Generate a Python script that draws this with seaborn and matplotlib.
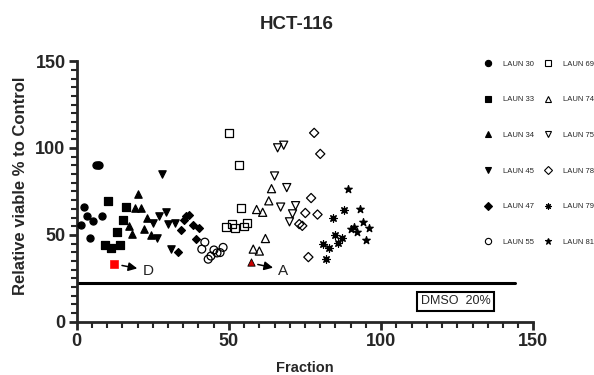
import matplotlib
matplotlib.use("Agg")
import matplotlib.pyplot as plt
from matplotlib.lines import Line2D
import seaborn as sns
import pandas as pd

# Data (fraction number vs. viability %)
laun30_x = [1.3, 2.4, 3.4, 4.4, 5.3, 6.3, 6.9, 7.4, 8.2]
laun30_y = [55.4, 65.8, 60.6, 48.1, 58.1, 90.0, 90.3, 90.5, 61.0]
laun33_x = [9.4, 10.4, 11.3, 13.3, 14.3, 15.3, 16.2]
laun33_y = [44.1, 69.6, 42.5, 51.4, 44.1, 58.7, 66.2]
laun34_x = [17.2, 18.2, 19.2, 20.1, 21.2, 22.2, 23.2, 24.3]
laun34_y = [55.2, 50.4, 65.2, 73.5, 65.4, 53.6, 59.8, 50.2]
laun45_x = [25.2, 26.3, 27.1, 28.1, 29.2, 30.1, 31.1, 32.2]
laun45_y = [57.1, 48.1, 61.0, 85.2, 63.1, 56.2, 41.7, 57.1]
laun47_x = [33.2, 34.3, 35.2, 36.0, 36.9, 38.1, 39.1, 40.1]
laun47_y = [40.4, 52.9, 58.7, 60.6, 61.4, 55.4, 47.5, 53.7]
laun55_x = [41.1, 42.1, 43.2, 44.1, 45.1, 46.1, 47.1, 48.1]
laun55_y = [41.8, 45.8, 36.0, 37.8, 41.3, 39.6, 39.8, 42.8]
laun69_x = [49.0, 50.1, 51.1, 52.1, 53.2, 54.1, 55.0, 56.0]
laun69_y = [54.4, 108.6, 56.5, 54.0, 90.3, 65.7, 54.8, 57.0]
laun74_x = [58.0, 59.1, 60.0, 61.1, 62.0, 63.1, 64.0]
laun74_y = [41.8, 64.6, 40.7, 63.0, 47.9, 69.6, 76.6]
laun75_x = [65.0, 66.0, 67.0, 68.0, 69.0, 69.9, 70.9, 71.9]
laun75_y = [83.9, 100.1, 66.0, 101.6, 77.2, 57.5, 62.1, 66.8]
laun78_x = [73.1, 74.1, 75.1, 76.1, 77.0, 78.0, 79.1, 80.0]
laun78_y = [56.2, 55.2, 62.6, 37.2, 71.2, 108.7, 61.7, 96.6]
laun79_x = [81.0, 82.0, 83.0, 84.1, 84.9, 85.9, 87.0, 87.9]
laun79_y = [44.8, 36.0, 42.7, 60.0, 50.0, 45.2, 48.1, 64.6]
laun81_x = [89.0, 90.0, 91.0, 92.0, 92.9, 93.9, 94.9, 95.9]
laun81_y = [76.4, 53.3, 54.5, 51.6, 64.9, 57.4, 47.0, 53.9]

# highlighted fractions
hit_d = (12.2, 33.3)
hit_a = (57.1, 34.4)
dmso_level = 22.5

series = [
    ("LAUN 30", laun30_x, laun30_y, "o", True, 26),
    ("LAUN 33", laun33_x, laun33_y, "s", True, 26),
    ("LAUN 34", laun34_x, laun34_y, "^", True, 28),
    ("LAUN 45", laun45_x, laun45_y, "v", True, 28),
    ("LAUN 47", laun47_x, laun47_y, "D", True, 16),
    ("LAUN 55", laun55_x, laun55_y, "o", False, 32),
    ("LAUN 69", laun69_x, laun69_y, "s", False, 32),
    ("LAUN 74", laun74_x, laun74_y, "^", False, 34),
    ("LAUN 75", laun75_x, laun75_y, "v", False, 34),
    ("LAUN 78", laun78_x, laun78_y, "D", False, 22),
    ("LAUN 79", laun79_x, laun79_y, (8, 2, 0), True, 28),
    ("LAUN 81", laun81_x, laun81_y, "*", True, 32),
]

sns.set_style("ticks")
plt.rcParams["font.family"] = ["Liberation Sans", "DejaVu Sans"]

fig = plt.figure(figsize=(5.94, 3.75), dpi=100)
ax = fig.add_axes([0.129, 0.142, 0.769, 0.695])

for name, xs, ys, mk, filled, size in series:
    df = pd.DataFrame({"Fraction": xs, "Viable": ys})
    sns.scatterplot(data=df, x="Fraction", y="Viable", marker=mk, s=size,
                    color="black", edgecolor="black", linewidth=0.9,
                    ax=ax, legend=False, zorder=3)
    if not filled:
        ax.collections[-1].set_facecolor("none")

# red highlighted hits
sns.scatterplot(x=[hit_d[0]], y=[hit_d[1]], marker="s", s=32, color="red",
                edgecolor="red", ax=ax, legend=False, zorder=4)
sns.scatterplot(x=[hit_a[0]], y=[hit_a[1]], marker="^", s=28, color="#cc0000",
                edgecolor="black", linewidth=0.6, ax=ax, legend=False, zorder=4)

ax.annotate("D", xy=(20.8, 30.4), xytext=(21.6, 29.4), fontsize=11,
            va="center", ha="left", color="#222222")
ax.annotate("", xy=(20.8, 30.4), xytext=(14.0, 32.7),
            arrowprops=dict(arrowstyle="-|>", color="black", lw=1.1, mutation_scale=13))
ax.annotate("A", xy=(65.4, 30.8), xytext=(66.2, 29.4), fontsize=11,
            va="center", ha="left", color="#222222")
ax.annotate("", xy=(65.4, 30.8), xytext=(58.6, 33.3),
            arrowprops=dict(arrowstyle="-|>", color="black", lw=1.1, mutation_scale=13))

# DMSO control line
ax.plot([0, 144], [dmso_level, dmso_level], color="black", lw=2.2, zorder=2)
ax.text(124.4, 11.7, "DMSO  20%", ha="center", va="center", fontsize=9,
        bbox=dict(boxstyle="square,pad=0.3", fc="white", ec="black", lw=1.5))

ax.set_xlim(0, 150)
ax.set_ylim(0, 150)
ax.set_xticks([0, 50, 100, 150])
ax.set_yticks([0, 50, 100, 150])
ax.set_xticks(range(0, 151, 5), minor=True)
ax.set_yticks(range(0, 151, 5), minor=True)
ax.tick_params(which="major", length=6, width=2, labelsize=13, pad=2)
ax.tick_params(which="minor", length=4, width=1.5)
for lab in ax.get_xticklabels() + ax.get_yticklabels():
    lab.set_fontweight("bold")
for sp in ["left", "bottom"]:
    ax.spines[sp].set_linewidth(2)
sns.despine(ax=ax)

ax.set_xlabel("Fraction", fontsize=10.5, fontweight="bold", labelpad=8)
ax.set_ylabel("Relative viable % to Control", fontsize=12, fontweight="bold")
ax.yaxis.set_label_coords(-0.107, 0.522)
fig.suptitle("HCT-116", x=0.5, y=0.958, fontsize=13.5, fontweight="bold")

handles = []
for name, xs, ys, mk, filled, size in series:
    handles.append(Line2D([], [], ls="none", marker=mk, color="black",
                          markerfacecolor="black" if filled else "none",
                          markersize=4.5 if mk != "D" else 3.6,
                          markeredgewidth=0.8, label=name))
fig.legend(handles=handles, ncol=2, loc="upper left",
           bbox_to_anchor=(0.808, 0.849), frameon=False, fontsize=5.5,
           labelspacing=3.7, handlelength=1, handletextpad=1.47,
           columnspacing=1.36, borderpad=0)

fig.savefig("out.png", dpi=100)
